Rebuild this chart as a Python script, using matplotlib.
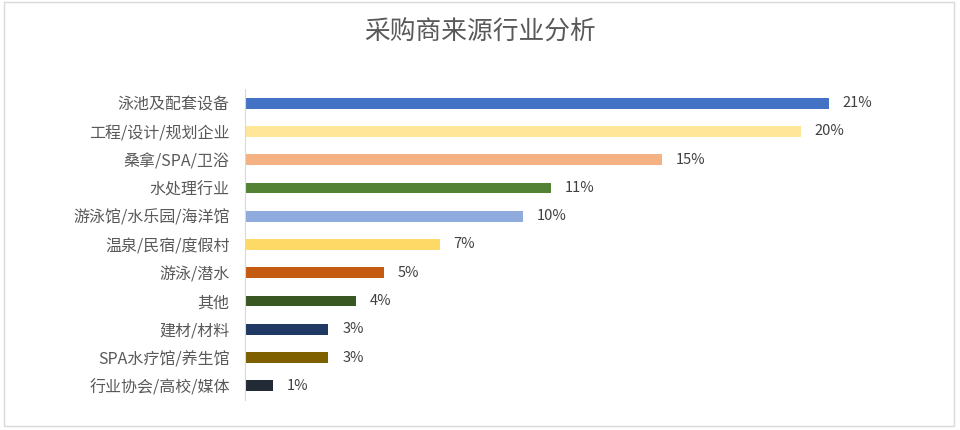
import matplotlib.pyplot as plt
from matplotlib.patches import Rectangle

plt.rcParams['font.family'] = ['Noto Sans CJK SC', 'DejaVu Sans']

categorias = ["泳池及配套设备", "工程/设计/规划企业", "桑拿/SPA/卫浴", "水处理行业",
              "游泳馆/水乐园/海洋馆", "温泉/民宿/度假村", "游泳/潜水", "其他",
              "建材/材料", "SPA水疗馆/养生馆", "行业协会/高校/媒体"]
porcentajes = [21, 20, 15, 11, 10, 7, 5, 4, 3, 3, 1]
colores = ["#4472C4", "#FFE699", "#F4B183", "#548235", "#8FAADC", "#FFD966",
           "#C55A11", "#385723", "#203864", "#7F6000", "#222A35"]

fig = plt.figure(figsize=(9.6, 4.3), dpi=100)
fig.patches.append(Rectangle((0.004, 0.01), 0.99, 0.985, transform=fig.transFigure,
                             fill=False, edgecolor="#D9D9D9", linewidth=1))
ax = fig.add_axes([245/960, 30/430, 695/960, 311/430])

y = list(range(len(categorias)))[::-1]
ax.barh(y, porcentajes, height=0.38, color=colores)
for yi, v in zip(y, porcentajes):
    ax.text(v + 0.5, yi, f"{v}%", va="center", ha="left", fontsize=10.5, color="#404040")

ax.set_xlim(0, 25)
ax.set_ylim(-0.5, len(categorias) - 0.5)
ax.set_yticks(y)
ax.set_yticklabels(categorias, fontsize=11.5, color="#595959")
ax.tick_params(axis="y", length=0, pad=11)
ax.set_xticks([])
for s in ["top", "right", "bottom"]:
    ax.spines[s].set_visible(False)
ax.spines["left"].set_color("#D9D9D9")

fig.text(0.5, 0.923, "采购商来源行业分析", ha="center", va="center", fontsize=18.5, color="#595959")

fig.savefig("out.png", dpi=100)
